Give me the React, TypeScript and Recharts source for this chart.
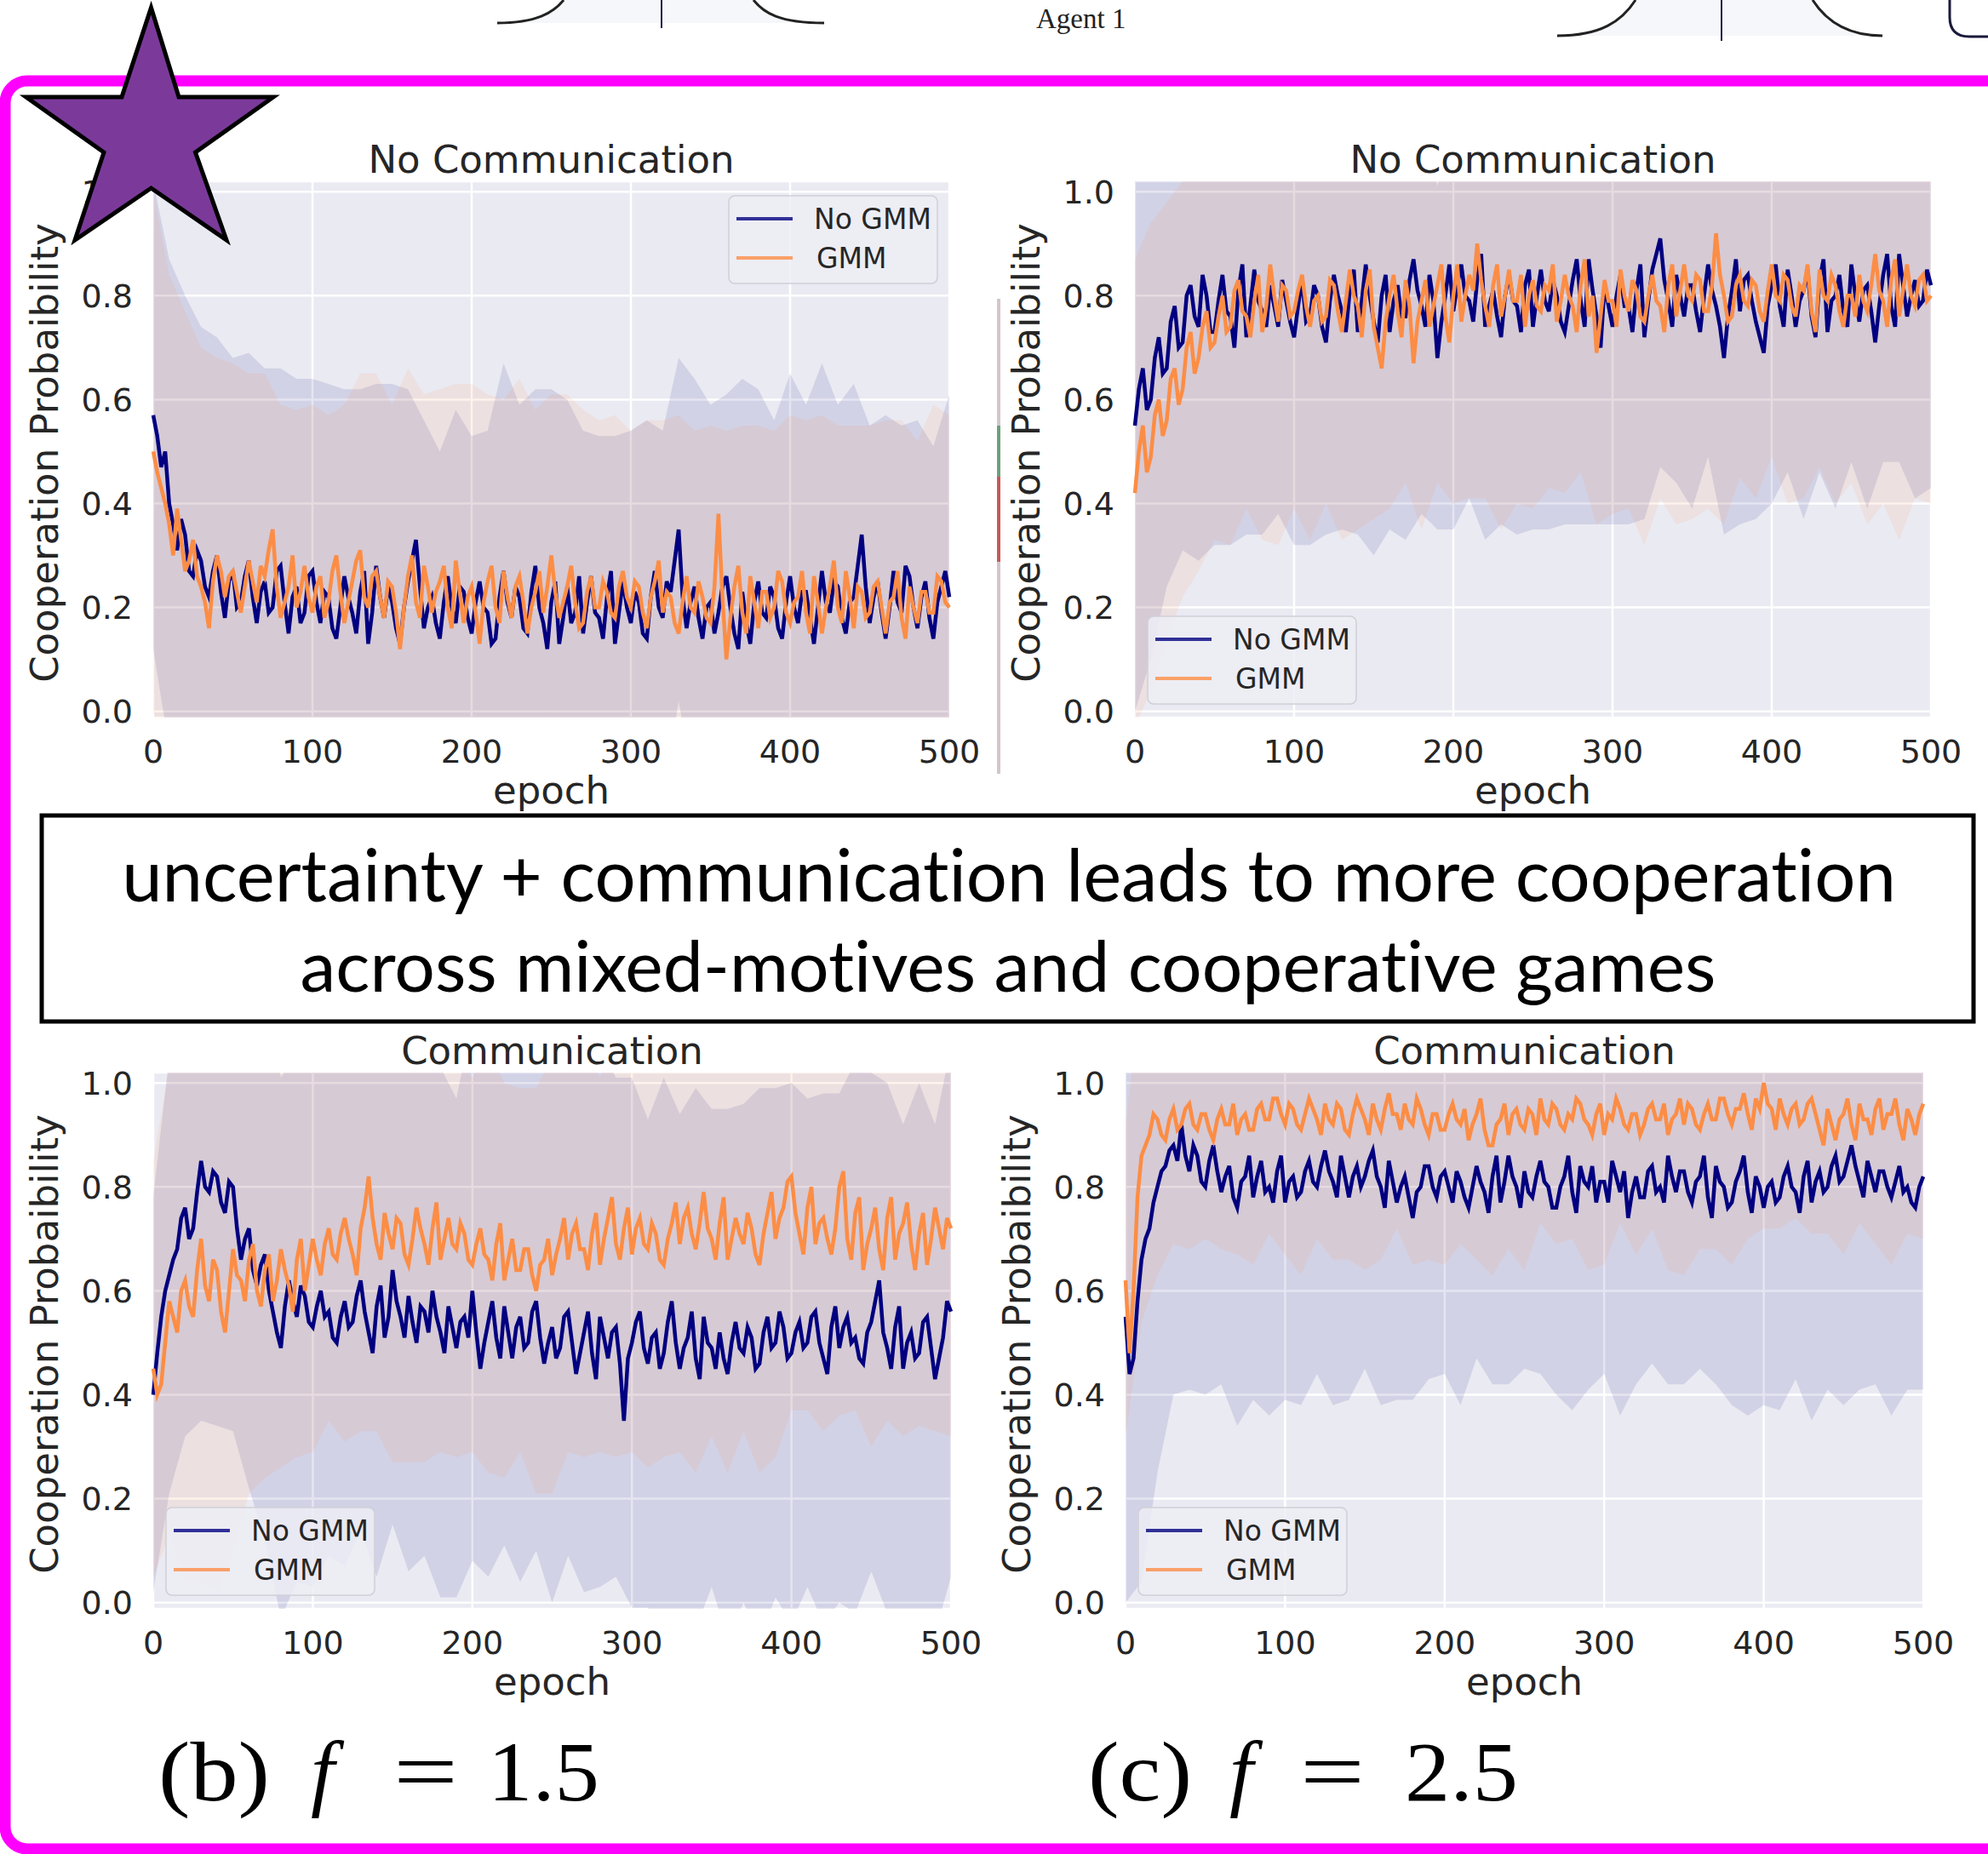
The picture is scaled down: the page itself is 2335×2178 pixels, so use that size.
import React from 'react';
import { ComposedChart, Line, Area, XAxis, YAxis, CartesianGrid } from 'recharts';

// mean curves are sampled every 2.5 epochs, std bands every 10 epochs
const epochs = Array.from({ length: 201 }, (_, i) => i * 2.5);
const bandEpochs = Array.from({ length: 51 }, (_, i) => i * 10);
const BAND_STRIDE = 4; // index step in the mean arrays for one band sample

const xTicks = [0, 100, 200, 300, 400, 500];
const yTicks = [0, 0.2, 0.4, 0.6, 0.8, 1.0];

// ---- No communication, f = 1.5 ----
const noCommF15NoGmm = [
  0.57, 0.53, 0.47, 0.50, 0.40, 0.36, 0.31, 0.37, 0.34, 0.27, 0.26, 0.31, 0.29, 0.24, 0.22, 0.27, 0.30, 0.23, 0.18, 0.25,
  0.27, 0.20, 0.21, 0.26, 0.29, 0.22, 0.17, 0.23, 0.25, 0.19, 0.20, 0.27, 0.28, 0.21, 0.15, 0.22, 0.24, 0.17, 0.19, 0.26,
  0.27, 0.21, 0.17, 0.23, 0.22, 0.16, 0.14, 0.20, 0.26, 0.22, 0.19, 0.15, 0.23, 0.27, 0.13, 0.19, 0.28, 0.22, 0.18, 0.24,
  0.21, 0.16, 0.13, 0.20, 0.25, 0.29, 0.33, 0.24, 0.16, 0.20, 0.22, 0.17, 0.14, 0.21, 0.26, 0.20, 0.17, 0.24, 0.23, 0.18,
  0.15, 0.21, 0.25, 0.20, 0.19, 0.13, 0.14, 0.22, 0.27, 0.21, 0.18, 0.24, 0.22, 0.16, 0.15, 0.23, 0.28, 0.20, 0.17, 0.12,
  0.21, 0.25, 0.13, 0.18, 0.24, 0.17, 0.19, 0.26, 0.15, 0.21, 0.26, 0.19, 0.18, 0.14, 0.22, 0.27, 0.13, 0.19, 0.25, 0.20,
  0.17, 0.23, 0.21, 0.15, 0.14, 0.22, 0.27, 0.20, 0.18, 0.25, 0.23, 0.29, 0.35, 0.22, 0.16, 0.21, 0.24, 0.18, 0.14, 0.20,
  0.21, 0.15, 0.19, 0.24, 0.26, 0.20, 0.15, 0.12, 0.23, 0.17, 0.13, 0.21, 0.25, 0.19, 0.18, 0.24, 0.22, 0.16, 0.14, 0.21,
  0.26, 0.20, 0.17, 0.23, 0.23, 0.18, 0.13, 0.20, 0.27, 0.21, 0.19, 0.25, 0.24, 0.18, 0.15, 0.21, 0.22, 0.28, 0.34, 0.24,
  0.17, 0.22, 0.25, 0.19, 0.14, 0.20, 0.27, 0.21, 0.19, 0.28, 0.26, 0.20, 0.16, 0.22, 0.25, 0.18, 0.14, 0.21, 0.24, 0.27,
  0.22,
];
const noCommF15Gmm = [
  0.50, 0.46, 0.43, 0.40, 0.36, 0.30, 0.39, 0.33, 0.27, 0.29, 0.33, 0.26, 0.24, 0.21, 0.16, 0.25, 0.30, 0.27, 0.22, 0.26,
  0.27, 0.23, 0.19, 0.24, 0.29, 0.25, 0.21, 0.28, 0.26, 0.31, 0.35, 0.24, 0.18, 0.21, 0.24, 0.30, 0.20, 0.23, 0.28, 0.22,
  0.19, 0.24, 0.26, 0.18, 0.21, 0.27, 0.30, 0.23, 0.17, 0.21, 0.25, 0.29, 0.31, 0.22, 0.20, 0.26, 0.27, 0.22, 0.18, 0.25,
  0.24, 0.19, 0.12, 0.20, 0.26, 0.30, 0.21, 0.18, 0.28, 0.24, 0.19, 0.23, 0.25, 0.28, 0.20, 0.16, 0.29, 0.23, 0.17, 0.22,
  0.24, 0.19, 0.13, 0.21, 0.25, 0.28, 0.20, 0.17, 0.27, 0.22, 0.18, 0.24, 0.26, 0.21, 0.15, 0.20, 0.23, 0.27, 0.19, 0.24,
  0.30, 0.23, 0.18, 0.21, 0.24, 0.28, 0.21, 0.16, 0.17, 0.23, 0.26, 0.20, 0.20, 0.25, 0.23, 0.19, 0.18, 0.24, 0.27, 0.22,
  0.20, 0.25, 0.24, 0.19, 0.16, 0.22, 0.25, 0.29, 0.19, 0.23, 0.22, 0.17, 0.15, 0.21, 0.26, 0.20, 0.19, 0.25, 0.22, 0.18,
  0.17, 0.24, 0.38, 0.22, 0.10, 0.18, 0.24, 0.28, 0.19, 0.15, 0.26, 0.21, 0.16, 0.23, 0.23, 0.18, 0.20, 0.27, 0.25, 0.19,
  0.17, 0.21, 0.22, 0.27, 0.19, 0.15, 0.26, 0.21, 0.15, 0.20, 0.24, 0.29, 0.20, 0.17, 0.27, 0.22, 0.16, 0.24, 0.23, 0.18,
  0.19, 0.24, 0.25, 0.20, 0.15, 0.21, 0.22, 0.27, 0.18, 0.14, 0.24, 0.20, 0.17, 0.23, 0.23, 0.19, 0.19, 0.26, 0.25, 0.21,
  0.20,
];
const noCommF15NoGmmStd = [
  0.45, 0.47, 0.46, 0.45, 0.42, 0.41, 0.40, 0.41, 0.38, 0.40, 0.37, 0.41, 0.36, 0.39, 0.35, 0.42, 0.37, 0.40, 0.36, 0.41,
  0.38, 0.35, 0.40, 0.37, 0.34, 0.41, 0.36, 0.39, 0.35, 0.40, 0.37, 0.42, 0.36, 0.33, 0.40, 0.38, 0.35, 0.41, 0.37, 0.34,
  0.39, 0.36, 0.40, 0.35, 0.41, 0.38, 0.43, 0.36, 0.40, 0.37, 0.39,
];
const noCommF15GmmStd = [
  0.50, 0.48, 0.50, 0.46, 0.38, 0.40, 0.36, 0.39, 0.41, 0.38, 0.40, 0.36, 0.42, 0.34, 0.38, 0.35, 0.40, 0.33, 0.37, 0.34,
  0.39, 0.36, 0.33, 0.38, 0.35, 0.31, 0.37, 0.41, 0.36, 0.39, 0.34, 0.40, 0.37, 0.42, 0.35, 0.38, 0.44, 0.36, 0.39, 0.34,
  0.40, 0.37, 0.42, 0.35, 0.39, 0.36, 0.41, 0.38, 0.35, 0.40, 0.37,
];

// ---- No communication, f = 2.5 ----
const noCommF25NoGmm = [
  0.55, 0.62, 0.66, 0.58, 0.60, 0.68, 0.72, 0.65, 0.66, 0.75, 0.78, 0.70, 0.71, 0.80, 0.82, 0.76, 0.74, 0.84, 0.80, 0.73,
  0.73, 0.79, 0.84, 0.77, 0.76, 0.70, 0.81, 0.86, 0.72, 0.78, 0.85, 0.79, 0.77, 0.74, 0.82, 0.78, 0.74, 0.83, 0.79, 0.75,
  0.72, 0.78, 0.83, 0.75, 0.76, 0.82, 0.80, 0.74, 0.71, 0.79, 0.84, 0.80, 0.77, 0.73, 0.81, 0.85, 0.73, 0.79, 0.86, 0.80,
  0.75, 0.71, 0.80, 0.84, 0.73, 0.79, 0.82, 0.76, 0.76, 0.83, 0.87, 0.81, 0.78, 0.74, 0.84, 0.79, 0.68, 0.75, 0.80, 0.86,
  0.77, 0.82, 0.86, 0.80, 0.79, 0.75, 0.83, 0.88, 0.74, 0.78, 0.81, 0.76, 0.72, 0.80, 0.84, 0.79, 0.78, 0.73, 0.82, 0.85,
  0.74, 0.80, 0.85, 0.79, 0.77, 0.83, 0.80, 0.75, 0.73, 0.78, 0.83, 0.87, 0.79, 0.74, 0.87, 0.81, 0.76, 0.70, 0.82, 0.78,
  0.74, 0.80, 0.84, 0.78, 0.78, 0.73, 0.81, 0.86, 0.72, 0.79, 0.85, 0.88, 0.91, 0.83, 0.79, 0.74, 0.84, 0.80, 0.76, 0.82,
  0.82, 0.77, 0.73, 0.80, 0.86, 0.81, 0.78, 0.74, 0.68, 0.76, 0.81, 0.87, 0.77, 0.83, 0.84, 0.79, 0.75, 0.72, 0.69, 0.78,
  0.82, 0.86, 0.78, 0.74, 0.85, 0.80, 0.74, 0.79, 0.81, 0.85, 0.76, 0.72, 0.83, 0.87, 0.73, 0.79, 0.80, 0.84, 0.77, 0.74,
  0.86, 0.80, 0.75, 0.81, 0.82, 0.77, 0.71, 0.78, 0.84, 0.88, 0.78, 0.74, 0.88, 0.82, 0.76, 0.80, 0.83, 0.78, 0.79, 0.85,
  0.82,
];
const noCommF25Gmm = [
  0.42, 0.50, 0.55, 0.46, 0.49, 0.57, 0.60, 0.53, 0.56, 0.64, 0.66, 0.59, 0.62, 0.70, 0.73, 0.65, 0.68, 0.74, 0.77, 0.70,
  0.71, 0.76, 0.80, 0.73, 0.74, 0.81, 0.83, 0.77, 0.76, 0.72, 0.79, 0.84, 0.73, 0.78, 0.86, 0.80, 0.75, 0.82, 0.81, 0.76,
  0.77, 0.81, 0.84, 0.78, 0.74, 0.79, 0.80, 0.75, 0.76, 0.83, 0.82, 0.77, 0.73, 0.79, 0.85, 0.80, 0.78, 0.72, 0.81, 0.85,
  0.74, 0.70, 0.66, 0.75, 0.80, 0.84, 0.77, 0.72, 0.83, 0.78, 0.67, 0.75, 0.79, 0.83, 0.74, 0.78, 0.82, 0.86, 0.76, 0.71,
  0.80, 0.86, 0.75, 0.80, 0.84, 0.81, 0.90, 0.83, 0.78, 0.74, 0.82, 0.86, 0.76, 0.80, 0.85, 0.79, 0.79, 0.84, 0.74, 0.80,
  0.83, 0.78, 0.77, 0.82, 0.81, 0.86, 0.75, 0.79, 0.84, 0.80, 0.78, 0.73, 0.82, 0.87, 0.76, 0.80, 0.69, 0.76, 0.83, 0.79,
  0.79, 0.74, 0.85, 0.80, 0.77, 0.83, 0.81, 0.76, 0.75, 0.80, 0.84, 0.79, 0.78, 0.73, 0.82, 0.86, 0.76, 0.81, 0.86, 0.80,
  0.79, 0.84, 0.83, 0.77, 0.77, 0.82, 0.92, 0.84, 0.80, 0.75, 0.76, 0.82, 0.84, 0.79, 0.78, 0.83, 0.82, 0.77, 0.75, 0.81,
  0.86, 0.80, 0.79, 0.84, 0.83, 0.78, 0.76, 0.82, 0.81, 0.86, 0.77, 0.73, 0.85, 0.80, 0.79, 0.84, 0.82, 0.77, 0.74, 0.80,
  0.80, 0.76, 0.84, 0.79, 0.77, 0.82, 0.88, 0.81, 0.79, 0.74, 0.83, 0.87, 0.76, 0.81, 0.86, 0.80, 0.78, 0.83, 0.84, 0.79,
  0.80,
];
const noCommF25NoGmmStd = [
  0.55, 0.50, 0.42, 0.40, 0.45, 0.41, 0.44, 0.38, 0.43, 0.36, 0.40, 0.44, 0.37, 0.42, 0.39, 0.45, 0.38, 0.43, 0.40, 0.33,
  0.42, 0.38, 0.41, 0.36, 0.44, 0.39, 0.42, 0.37, 0.43, 0.40, 0.38, 0.42, 0.35, 0.44, 0.40, 0.43, 0.37, 0.34, 0.41, 0.38,
  0.42, 0.39, 0.44, 0.37, 0.41, 0.38, 0.43, 0.36, 0.40, 0.42, 0.39,
];
const noCommF25GmmStd = [
  0.45, 0.45, 0.42, 0.40, 0.41, 0.38, 0.42, 0.37, 0.40, 0.43, 0.38, 0.41, 0.36, 0.40, 0.43, 0.37, 0.41, 0.39, 0.44, 0.38,
  0.40, 0.43, 0.37, 0.41, 0.39, 0.44, 0.38, 0.42, 0.36, 0.33, 0.41, 0.38, 0.43, 0.37, 0.40, 0.42, 0.38, 0.44, 0.39, 0.41,
  0.37, 0.43, 0.40, 0.38, 0.42, 0.36, 0.41, 0.39, 0.43, 0.37, 0.40,
];

// ---- Communication, f = 1.5 ----
const commF15NoGmm = [
  0.40, 0.48, 0.55, 0.60, 0.63, 0.66, 0.68, 0.74, 0.76, 0.70, 0.72, 0.79, 0.85, 0.80, 0.79, 0.83, 0.82, 0.77, 0.75, 0.81,
  0.80, 0.72, 0.66, 0.70, 0.72, 0.64, 0.61, 0.65, 0.67, 0.60, 0.56, 0.52, 0.49, 0.57, 0.62, 0.58, 0.55, 0.61, 0.59, 0.54,
  0.53, 0.57, 0.60, 0.55, 0.56, 0.51, 0.50, 0.55, 0.58, 0.53, 0.54, 0.59, 0.62, 0.56, 0.52, 0.48, 0.57, 0.61, 0.51, 0.55,
  0.64, 0.58, 0.55, 0.51, 0.59, 0.54, 0.50, 0.57, 0.56, 0.52, 0.60, 0.55, 0.52, 0.48, 0.57, 0.53, 0.49, 0.54, 0.55, 0.51,
  0.60, 0.52, 0.45, 0.50, 0.54, 0.58, 0.51, 0.47, 0.57, 0.52, 0.47, 0.53, 0.55, 0.49, 0.50, 0.56, 0.58, 0.51, 0.46, 0.50,
  0.53, 0.47, 0.49, 0.55, 0.56, 0.50, 0.44, 0.48, 0.52, 0.56, 0.48, 0.43, 0.55, 0.51, 0.47, 0.52, 0.53, 0.46, 0.35, 0.47,
  0.50, 0.54, 0.56, 0.49, 0.46, 0.51, 0.52, 0.45, 0.48, 0.54, 0.58, 0.50, 0.45, 0.49, 0.51, 0.56, 0.47, 0.43, 0.55, 0.50,
  0.49, 0.45, 0.52, 0.47, 0.44, 0.50, 0.54, 0.49, 0.48, 0.53, 0.51, 0.45, 0.46, 0.52, 0.55, 0.49, 0.50, 0.56, 0.53, 0.47,
  0.48, 0.52, 0.54, 0.49, 0.50, 0.55, 0.56, 0.50, 0.47, 0.44, 0.53, 0.57, 0.49, 0.53, 0.55, 0.50, 0.51, 0.47, 0.46, 0.52,
  0.54, 0.58, 0.62, 0.52, 0.49, 0.45, 0.53, 0.57, 0.45, 0.50, 0.52, 0.47, 0.48, 0.54, 0.55, 0.49, 0.43, 0.47, 0.51, 0.58,
  0.56,
];
const commF15Gmm = [
  0.45, 0.40, 0.42, 0.50, 0.58, 0.55, 0.52, 0.60, 0.62, 0.57, 0.55, 0.64, 0.70, 0.61, 0.58, 0.66, 0.64, 0.56, 0.52, 0.60,
  0.68, 0.63, 0.62, 0.58, 0.66, 0.69, 0.60, 0.57, 0.64, 0.67, 0.58, 0.62, 0.68, 0.64, 0.61, 0.56, 0.66, 0.70, 0.60, 0.65,
  0.70, 0.66, 0.63, 0.69, 0.72, 0.67, 0.66, 0.71, 0.74, 0.70, 0.67, 0.63, 0.72, 0.76, 0.82, 0.74, 0.69, 0.66, 0.75, 0.71,
  0.68, 0.74, 0.73, 0.67, 0.65, 0.70, 0.76, 0.72, 0.69, 0.65, 0.72, 0.77, 0.66, 0.70, 0.74, 0.69, 0.68, 0.73, 0.71, 0.66,
  0.65, 0.69, 0.72, 0.67, 0.66, 0.62, 0.69, 0.73, 0.62, 0.66, 0.70, 0.64, 0.64, 0.68, 0.68, 0.63, 0.60, 0.65, 0.66, 0.70,
  0.63, 0.67, 0.70, 0.74, 0.66, 0.71, 0.73, 0.68, 0.68, 0.64, 0.71, 0.75, 0.65, 0.70, 0.74, 0.78, 0.69, 0.66, 0.72, 0.76,
  0.67, 0.72, 0.74, 0.69, 0.68, 0.73, 0.71, 0.66, 0.65, 0.70, 0.73, 0.77, 0.69, 0.74, 0.76, 0.71, 0.68, 0.73, 0.79, 0.72,
  0.70, 0.66, 0.73, 0.78, 0.66, 0.70, 0.74, 0.71, 0.69, 0.75, 0.72, 0.67, 0.65, 0.71, 0.75, 0.79, 0.70, 0.74, 0.76, 0.81,
  0.82, 0.75, 0.71, 0.67, 0.76, 0.80, 0.69, 0.73, 0.74, 0.70, 0.67, 0.72, 0.80, 0.83, 0.70, 0.66, 0.75, 0.78, 0.64, 0.69,
  0.72, 0.76, 0.68, 0.64, 0.74, 0.78, 0.66, 0.71, 0.73, 0.77, 0.69, 0.64, 0.71, 0.75, 0.65, 0.70, 0.76, 0.72, 0.68, 0.74,
  0.72,
];
const commF15NoGmmStd = [
  0.38, 0.42, 0.44, 0.50, 0.48, 0.47, 0.50, 0.55, 0.52, 0.51, 0.50, 0.47, 0.51, 0.48, 0.52, 0.49, 0.53, 0.47, 0.51, 0.48,
  0.52, 0.49, 0.46, 0.51, 0.48, 0.53, 0.47, 0.50, 0.52, 0.48, 0.51, 0.47, 0.53, 0.49, 0.52, 0.46, 0.51, 0.48, 0.53, 0.49,
  0.52, 0.47, 0.51, 0.49, 0.53, 0.48, 0.51, 0.47, 0.52, 0.49, 0.51,
];
const commF15GmmStd = [
  0.40, 0.45, 0.58, 0.66, 0.62, 0.58, 0.45, 0.40, 0.42, 0.38, 0.41, 0.37, 0.43, 0.39, 0.36, 0.41, 0.38, 0.42, 0.37, 0.40,
  0.36, 0.41, 0.38, 0.35, 0.39, 0.42, 0.37, 0.40, 0.36, 0.41, 0.38, 0.42, 0.37, 0.40, 0.43, 0.38, 0.41, 0.36, 0.40, 0.42,
  0.45, 0.39, 0.41, 0.44, 0.38, 0.42, 0.39, 0.41, 0.37, 0.43, 0.40,
];

// ---- Communication, f = 2.5 ----
const commF25NoGmm = [
  0.55, 0.44, 0.47, 0.58, 0.66, 0.70, 0.72, 0.77, 0.80, 0.83, 0.84, 0.87, 0.88, 0.85, 0.92, 0.86, 0.83, 0.88, 0.86, 0.81,
  0.80, 0.85, 0.88, 0.83, 0.79, 0.82, 0.84, 0.78, 0.76, 0.81, 0.82, 0.86, 0.78, 0.82, 0.85, 0.79, 0.80, 0.77, 0.83, 0.86,
  0.77, 0.81, 0.82, 0.78, 0.79, 0.83, 0.85, 0.81, 0.80, 0.84, 0.87, 0.83, 0.81, 0.78, 0.86, 0.82, 0.78, 0.82, 0.84, 0.80,
  0.82, 0.85, 0.87, 0.82, 0.80, 0.76, 0.85, 0.81, 0.77, 0.80, 0.82, 0.78, 0.74, 0.79, 0.80, 0.84, 0.84, 0.80, 0.78, 0.82,
  0.83, 0.80, 0.77, 0.83, 0.81, 0.78, 0.76, 0.80, 0.84, 0.81, 0.79, 0.75, 0.82, 0.86, 0.77, 0.81, 0.86, 0.82, 0.80, 0.76,
  0.83, 0.79, 0.78, 0.82, 0.85, 0.81, 0.80, 0.76, 0.76, 0.80, 0.82, 0.86, 0.79, 0.75, 0.84, 0.81, 0.80, 0.84, 0.77, 0.81,
  0.81, 0.77, 0.85, 0.82, 0.79, 0.83, 0.74, 0.79, 0.82, 0.78, 0.78, 0.83, 0.84, 0.79, 0.80, 0.77, 0.86, 0.82, 0.79, 0.83,
  0.83, 0.79, 0.77, 0.81, 0.82, 0.86, 0.78, 0.74, 0.84, 0.81, 0.80, 0.76, 0.77, 0.81, 0.83, 0.86, 0.79, 0.75, 0.82, 0.80,
  0.76, 0.80, 0.81, 0.77, 0.78, 0.82, 0.84, 0.80, 0.79, 0.75, 0.82, 0.85, 0.77, 0.81, 0.83, 0.79, 0.80, 0.84, 0.86, 0.81,
  0.82, 0.85, 0.88, 0.84, 0.81, 0.78, 0.85, 0.82, 0.79, 0.83, 0.83, 0.80, 0.78, 0.81, 0.84, 0.79, 0.80, 0.77, 0.76, 0.80,
  0.82,
];
const commF25Gmm = [
  0.62, 0.48, 0.60, 0.78, 0.86, 0.88, 0.90, 0.94, 0.93, 0.90, 0.89, 0.93, 0.95, 0.91, 0.92, 0.95, 0.96, 0.92, 0.91, 0.94,
  0.94, 0.91, 0.89, 0.93, 0.95, 0.92, 0.92, 0.96, 0.90, 0.93, 0.94, 0.91, 0.91, 0.95, 0.96, 0.93, 0.93, 0.97, 0.97, 0.94,
  0.92, 0.96, 0.95, 0.92, 0.91, 0.94, 0.97, 0.95, 0.93, 0.90, 0.96, 0.93, 0.92, 0.96, 0.95, 0.91, 0.90, 0.94, 0.97, 0.95,
  0.93, 0.90, 0.96, 0.93, 0.91, 0.95, 0.98, 0.94, 0.94, 0.91, 0.96, 0.93, 0.92, 0.97, 0.95, 0.92, 0.90, 0.94, 0.94, 0.91,
  0.91, 0.94, 0.96, 0.93, 0.92, 0.95, 0.89, 0.92, 0.94, 0.97, 0.91, 0.88, 0.88, 0.92, 0.93, 0.96, 0.90, 0.94, 0.95, 0.92,
  0.91, 0.95, 0.94, 0.90, 0.97, 0.93, 0.92, 0.96, 0.95, 0.92, 0.91, 0.94, 0.93, 0.97, 0.96, 0.93, 0.92, 0.90, 0.94, 0.96,
  0.90, 0.94, 0.93, 0.97, 0.95, 0.92, 0.91, 0.94, 0.94, 0.90, 0.92, 0.95, 0.96, 0.93, 0.93, 0.96, 0.90, 0.93, 0.94, 0.97,
  0.92, 0.96, 0.95, 0.92, 0.91, 0.94, 0.96, 0.93, 0.93, 0.97, 0.97, 0.94, 0.92, 0.95, 0.95, 0.98, 0.94, 0.91, 0.97, 0.95,
  1.00, 0.96, 0.95, 0.91, 0.97, 0.94, 0.92, 0.95, 0.96, 0.92, 0.93, 0.96, 0.97, 0.94, 0.91, 0.88, 0.95, 0.92, 0.89, 0.93,
  0.94, 0.97, 0.92, 0.89, 0.96, 0.93, 0.93, 0.90, 0.95, 0.97, 0.91, 0.94, 0.94, 0.97, 0.92, 0.89, 0.95, 0.93, 0.90, 0.94,
  0.96,
];
const commF25NoGmmStd = [
  0.55, 0.62, 0.55, 0.48, 0.42, 0.40, 0.37, 0.42, 0.39, 0.44, 0.38, 0.41, 0.36, 0.43, 0.39, 0.37, 0.42, 0.38, 0.35, 0.41,
  0.39, 0.43, 0.37, 0.40, 0.44, 0.38, 0.41, 0.36, 0.42, 0.39, 0.37, 0.43, 0.40, 0.38, 0.44, 0.41, 0.37, 0.42, 0.39, 0.43,
  0.38, 0.41, 0.36, 0.42, 0.39, 0.44, 0.40, 0.37, 0.42, 0.39, 0.41,
];
const commF25GmmStd = [
  0.30, 0.32, 0.30, 0.26, 0.28, 0.24, 0.27, 0.23, 0.26, 0.22, 0.25, 0.28, 0.23, 0.26, 0.24, 0.29, 0.25, 0.22, 0.27, 0.24,
  0.26, 0.23, 0.28, 0.25, 0.22, 0.27, 0.24, 0.26, 0.23, 0.28, 0.25, 0.22, 0.27, 0.24, 0.26, 0.29, 0.23, 0.25, 0.27, 0.24,
  0.28, 0.25, 0.22, 0.26, 0.24, 0.27, 0.23, 0.26, 0.29, 0.24, 0.26,
];

const NAVY = '#000080';
const ORANGE = '#FC8D45';
const INK = '#262626';
const FONT = '"DejaVu Sans", sans-serif';

const PLOT_H = 630;
const Y_AXIS_W = 150;
const PAD_TOP = 10;
const PAD_RIGHT = 70;
const X_AXIS_H = 90;

type PanelSpec = {
  title: string;
  left: number;
  top: number;
  width: number;
  legend: 'upper right' | 'lower left';
  noGmm: number[];
  gmm: number[];
  noGmmStd: number[];
  gmmStd: number[];
};

const panels: PanelSpec[] = [
  { title: 'No Communication', left: 180, top: 213, width: 935, legend: 'upper right',
    noGmm: noCommF15NoGmm, gmm: noCommF15Gmm, noGmmStd: noCommF15NoGmmStd, gmmStd: noCommF15GmmStd },
  { title: 'No Communication', left: 1333, top: 213, width: 935, legend: 'lower left',
    noGmm: noCommF25NoGmm, gmm: noCommF25Gmm, noGmmStd: noCommF25NoGmmStd, gmmStd: noCommF25GmmStd },
  { title: 'Communication', left: 180, top: 1260, width: 937, legend: 'lower left',
    noGmm: commF15NoGmm, gmm: commF15Gmm, noGmmStd: commF15NoGmmStd, gmmStd: commF15GmmStd },
  { title: 'Communication', left: 1322, top: 1260, width: 937, legend: 'lower left',
    noGmm: commF25NoGmm, gmm: commF25Gmm, noGmmStd: commF25NoGmmStd, gmmStd: commF25GmmStd },
];

const tickStyle = { fontSize: 38, fill: INK, fontFamily: FONT };

const PanelChart = ({ p }: { p: PanelSpec }) => {
  const rows = epochs.map((epoch, i) => ({ epoch, noGmm: p.noGmm[i], gmm: p.gmm[i] }));
  // mean +/- std, clipped by the axis range
  const bands = bandEpochs.map((epoch, j) => {
    const a = p.noGmm[j * BAND_STRIDE];
    const b = p.gmm[j * BAND_STRIDE];
    return {
      epoch,
      noGmmBand: [a - p.noGmmStd[j], a + p.noGmmStd[j]],
      gmmBand: [b - p.gmmStd[j], b + p.gmmStd[j]],
    };
  });
  return (
    <div style={{ position: 'absolute', left: p.left - Y_AXIS_W, top: p.top - PAD_TOP }}>
      <ComposedChart
        width={Y_AXIS_W + p.width + PAD_RIGHT}
        height={PAD_TOP + PLOT_H + X_AXIS_H}
        data={rows}
        margin={{ top: PAD_TOP, right: PAD_RIGHT, bottom: 0, left: 0 }}
      >
        <CartesianGrid fill="#EAEAF2" stroke="#FFFFFF" strokeWidth={2.5} />
        <XAxis type="number" dataKey="epoch" domain={[0, 500]} ticks={xTicks} interval={0}
          height={X_AXIS_H} tickLine={false} axisLine={false} tickSize={0} tickMargin={26} tick={tickStyle} />
        <YAxis type="number" domain={[-0.012, 1.02]} allowDataOverflow ticks={yTicks} interval={0}
          width={Y_AXIS_W} tickLine={false} axisLine={false} tickSize={0} tickMargin={24} tick={tickStyle}
          tickFormatter={(v: number) => v.toFixed(1)} />
        <Area data={bands} dataKey="noGmmBand" type="linear" stroke="none" fill={NAVY} fillOpacity={0.1}
          isAnimationActive={false} />
        <Area data={bands} dataKey="gmmBand" type="linear" stroke="none" fill={ORANGE} fillOpacity={0.1}
          isAnimationActive={false} />
        <Line dataKey="noGmm" type="linear" stroke={NAVY} strokeWidth={4.5} dot={false} isAnimationActive={false} />
        <Line dataKey="gmm" type="linear" stroke={ORANGE} strokeWidth={4.5} dot={false} isAnimationActive={false} />
      </ComposedChart>
    </div>
  );
};

const LegendBox = ({ p }: { p: PanelSpec }) => {
  const w = 245;
  const h = 103;
  const x = p.legend === 'upper right' ? p.left + p.width - 14 - w : p.left + 15;
  const y = p.legend === 'upper right' ? p.top + 17 : p.top + PLOT_H - 16 - h;
  const items = [
    { label: 'No GMM', color: NAVY },
    { label: 'GMM', color: ORANGE },
  ];
  return (
    <g>
      <rect x={x} y={y} width={w} height={h} rx={7} fill="#EDEDF4" fillOpacity={0.85} stroke="#CFCFD8" strokeWidth={1.5} />
      {items.map((it, i) => (
        <g key={it.label}>
          <line x1={x + 9} x2={x + 75} y1={y + 27 + i * 46} y2={y + 27 + i * 46} stroke={it.color} strokeWidth={4} strokeOpacity={0.8} />
          <text x={x + 100 + (i === 1 ? 3 : 0)} y={y + 39 + i * 46} fontSize={33} fill={INK} fontFamily={FONT}>{it.label}</text>
        </g>
      ))}
    </g>
  );
};

const PanelText = ({ p }: { p: PanelSpec }) => {
  const cx = p.left + p.width / 2;
  const cy = p.top + PLOT_H / 2;
  return (
    <g fill={INK} fontFamily={FONT}>
      <text x={cx} y={p.top - 10} fontSize={45} textAnchor="middle">{p.title}</text>
      <text x={cx} y={p.top + PLOT_H + 101} fontSize={45} textAnchor="middle">epoch</text>
      <text x={p.left - 112} y={cy + 4} fontSize={45} textAnchor="middle" transform={`rotate(-90 ${p.left - 112} ${cy + 4})`}>
        Cooperation Probaibility
      </text>
      <LegendBox p={p} />
    </g>
  );
};

const serif = '"Liberation Serif", "DejaVu Serif", serif';

const App = () => (
  <div style={{ position: 'absolute', left: 0, top: 0, width: 2335, height: 2178, background: '#FFFFFF', overflow: 'hidden' }}>
    {panels.map((p, i) => <PanelChart key={i} p={p} />)}
    <svg width={2335} height={2178} style={{ position: 'absolute', left: 0, top: 0, pointerEvents: 'none' }}>
      {/* pieces of the figure above, cut off by the page top */}
      <path d="M584 27 C630 27 650 15 662 0 L885 0 C897 15 915 27 968 27 Z" fill="#F6F7FA" />
      <path d="M584 27 C630 27 650 15 662 0 M885 0 C897 15 915 27 968 27" fill="none" stroke="#222" strokeWidth={3} />
      <line x1={777} y1={0} x2={777} y2={33} stroke="#1E1E4A" strokeWidth={2} />
      <path d="M1829 42 C1880 42 1905 25 1921 0 L2129 0 C2145 25 2170 42 2211 42 Z" fill="#F6F7FA" />
      <path d="M1829 42 C1880 42 1905 25 1921 0 M2129 0 C2145 25 2170 42 2211 42" fill="none" stroke="#222" strokeWidth={3} />
      <line x1={2022} y1={0} x2={2022} y2={48} stroke="#1E1E4A" strokeWidth={2} />
      <path d="M2290 0 L2290 20 Q2290 43 2313 43 L2335 43" fill="none" stroke="#1A1A3A" strokeWidth={3} />
      <text x={1217} y={33} fontSize={33} fontFamily={serif} fill="#222">Agent 1</text>

      {/* sliver of a neighbouring plot between the two top panels */}
      <rect x={1171} y={351} width={4} height={558} fill="#D2C6CC" />
      <rect x={1171} y={500} width={4} height={60} fill="#6FA07A" />
      <rect x={1171} y={560} width={4} height={100} fill="#C8585A" />

      {panels.map((p, i) => <PanelText key={i} p={p} />)}

      {/* takeaway box */}
      <rect x={49} y={958} width={2269} height={242} fill="#FFFFFF" stroke="#000" strokeWidth={5} />
      <g fontFamily='Lato, "Open Sans", sans-serif' fill="#000" textAnchor="middle"
        style={{ fontVariantLigatures: 'none' }}>
        <text x={1185} y={1059} fontSize={85}>uncertainty + communication leads to more cooperation</text>
        <text x={1184} y={1165} fontSize={84}>across mixed-motives and cooperative games</text>
      </g>

      {/* sub-figure captions */}
      <g fontFamily={serif} fontSize={100} fill="#000">
        <text y={2115}>
          <tspan x={186} textLength={131} lengthAdjust="spacingAndGlyphs">(b)</tspan>
          <tspan x={365} fontStyle="italic">f</tspan>
          <tspan x={462} textLength={76} lengthAdjust="spacingAndGlyphs">=</tspan>
          <tspan x={573} textLength={131} lengthAdjust="spacingAndGlyphs">1.5</tspan>
        </text>
        <text y={2115}>
          <tspan x={1278} textLength={122} lengthAdjust="spacingAndGlyphs">(c)</tspan>
          <tspan x={1444} fontStyle="italic">f</tspan>
          <tspan x={1527} textLength={76} lengthAdjust="spacingAndGlyphs">=</tspan>
          <tspan x={1650} textLength={133} lengthAdjust="spacingAndGlyphs">2.5</tspan>
        </text>
      </g>

      {/* slide frame and star */}
      <rect x={6} y={95} width={2400} height={2077} rx={26} fill="none" stroke="#FF00FF" strokeWidth={13} />
      <polygon
        points="177.5,9 210,114 321,114 229.5,179 266,282 177.5,221 88,282 122,179 30.6,114 143,114"
        fill="#7B3A9A" stroke="#000" strokeWidth={5} strokeLinejoin="miter"
      />
    </svg>
  </div>
);

export default App;
